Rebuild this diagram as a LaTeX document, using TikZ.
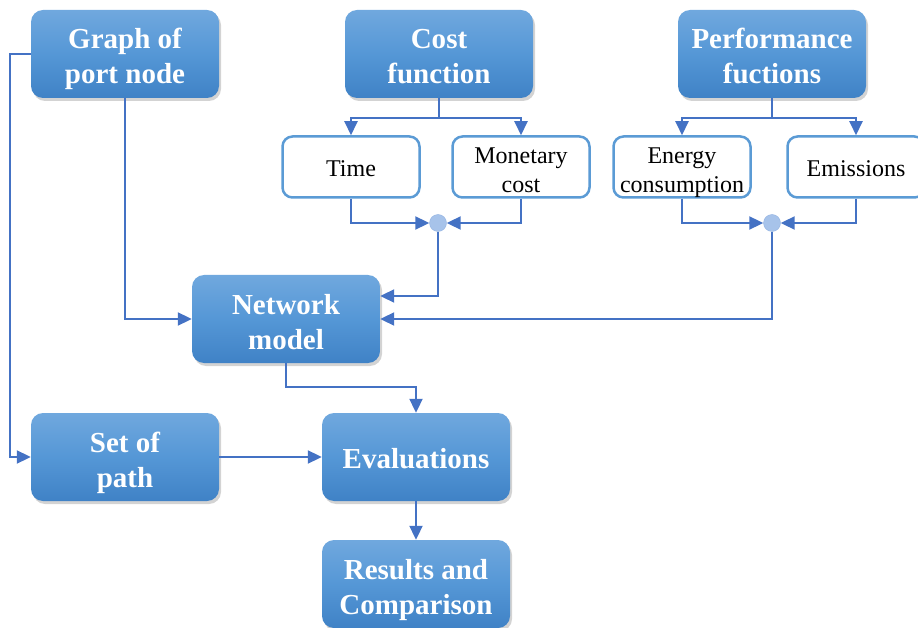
\documentclass[tikz,border=0pt]{standalone}
\usepackage{fontspec}
\setmainfont{Liberation Serif}
\usetikzlibrary{positioning,arrows.meta,shadows}
\definecolor{boxtop}{HTML}{70A8DE}
\definecolor{boxmid}{HTML}{5597D6}
\definecolor{boxbot}{HTML}{3F82C6}
\definecolor{edge}{HTML}{4472C4}
\definecolor{subline}{HTML}{5B9BD5}
\definecolor{dotfill}{HTML}{A7C3EA}
\begin{document}
\begin{tikzpicture}[x=1pt, y=-1pt,
    main/.style = {rounded corners=12pt, minimum width=188pt, minimum height=88pt,
        top color=boxtop, bottom color=boxbot, middle color=boxmid, text=white,
        align=center, font=\fontsize{29}{35}\selectfont\bfseries,
        text height=66pt, text depth=6pt,
        drop shadow={shadow xshift=2pt, shadow yshift=-3pt, opacity=0.35}},
    sub/.style = {draw=subline, line width=2.5pt, fill=white, rounded corners=10pt,
        minimum width=137pt, minimum height=61pt, align=center,
        font=\fontsize{24}{29}\selectfont, text height=19pt, text depth=0pt},
    twoline/.style = {text height=52pt, text depth=0pt},
    dot/.style = {circle, fill=dotfill, draw=dotfill!80!edge, minimum size=17pt, inner sep=0pt},
    link/.style = {draw=edge, line width=2pt, -{Triangle[length=14pt,width=13pt]}}]
    \useasboundingbox (0,0) rectangle (918,628);
    \node[main] (1) at (125,54) {Graph of\\port node};
    \node[main, node distance=314pt] (2) [right of=1] {Cost\\function};
    \node[main, node distance=333pt] (3) [right of=2] {Performance\\fuctions};
    \node[sub] (4) at (351,167) {Time};
    \node[sub, twoline, node distance=170pt] (5) [right of=4] {Monetary\\cost};
    \node[sub, twoline, node distance=331pt] (6) [right of=4] {Energy\\consumption};
    \node[sub, node distance=174pt] (7) [right of=6] {Emissions};
    \node[dot] (j1) at (438,223) {};
    \node[dot, node distance=169pt] (j2) [below of=3] {};
    \node[main] (8) at (286,319) {Network\\model};
    \node[main, node distance=403pt] (9) [below of=1] {Set of\\path};
    \node[main, text height=22pt, text depth=0pt, node distance=291pt] (10) [right of=9] {Evaluations};
    \node[main, node distance=127pt] (11) [below of=10] {Results and\\Comparison};
    \draw[link] (2.south) -- ++(0,20) -| (4.north);
    \draw[link] (2.south) -- ++(0,20) -| (5.north);
    \draw[link] (3.south) -- ++(0,20) -| (6.north);
    \draw[link] (3.south) -- ++(0,20) -| (7.north);
    \draw[link] (4.south) |- (j1);
    \draw[link] (5.south) |- (j1);
    \draw[link] (6.south) |- (j2);
    \draw[link] (7.south) |- (j2);
    \draw[link] (j1) |- ([yshift=23pt]8.east);
    \draw[link] (j2) |- (8.east);
    \draw[link] (1.south) |- (8.west);
    \draw[link] (1.west) -- ++(-21,0) |- (9.west);
    \draw[link] (8.south) -- ++(0,24) -| (10.north);
    \draw[link] (9) -- (10);
    \draw[link] (10) -- (11);
\end{tikzpicture}
\end{document}
